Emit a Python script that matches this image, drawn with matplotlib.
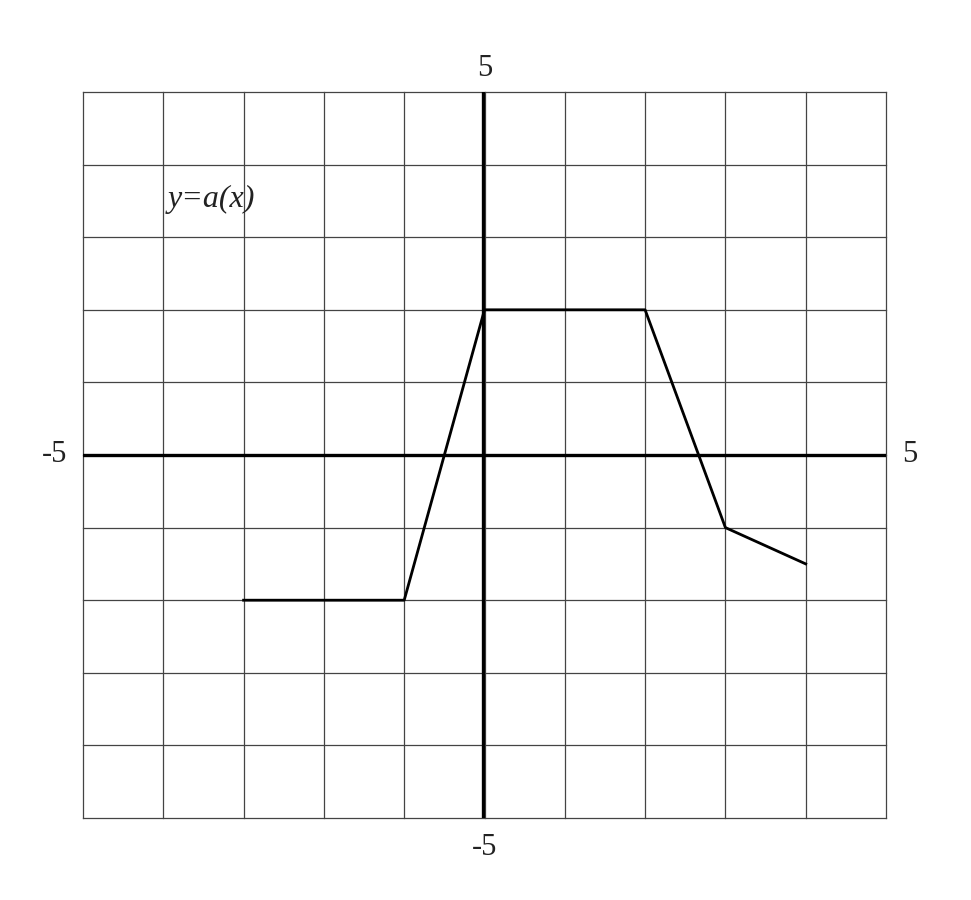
import numpy as np
import matplotlib.pyplot as plt

# datos de la curva y=a(x)
x = [-3, -1, 0, 2, 3, 4]
y = [-2, -2, 2, 2, -1, -1.5]

fig = plt.figure(figsize=(9.71, 9.0), dpi=100)
ax = fig.add_axes([83 / 971, 82 / 900, 803 / 971, 726 / 900])

ax.set_xlim(-5, 5)
ax.set_ylim(-5, 5)

# cuadricula
for v in range(-5, 6):
    ax.axvline(v, color='#444444', lw=0.9, zorder=1, clip_on=False)
    ax.axhline(v, color='#444444', lw=0.9, zorder=1, clip_on=False)

# ejes
ax.axhline(0, color='black', lw=2.4, zorder=2)
ax.axvline(-0.02, color='black', lw=2.4, zorder=2)

ax.plot(x, y, color='black', lw=2, zorder=3)

for s in ax.spines.values():
    s.set_visible(False)
ax.set_xticks([])
ax.set_yticks([])

fnt = dict(family=['Liberation Serif', 'DejaVu Serif'], fontsize=22, color='#222222')
ax.text(0, 5.12, '5', ha='center', va='bottom', **fnt)
ax.text(0, -5.2, '-5', ha='center', va='top', **fnt)
ax.text(-5.2, 0, '-5', ha='right', va='center', **fnt)
ax.text(5.2, 0, '5', ha='left', va='center', **fnt)
ax.text(-3.95, 3.52, 'y=a(x)', ha='left', va='center', style='italic',
        family=['Liberation Serif', 'DejaVu Serif'], fontsize=23, color='#222222')

fig.savefig('out.png', dpi=100)
